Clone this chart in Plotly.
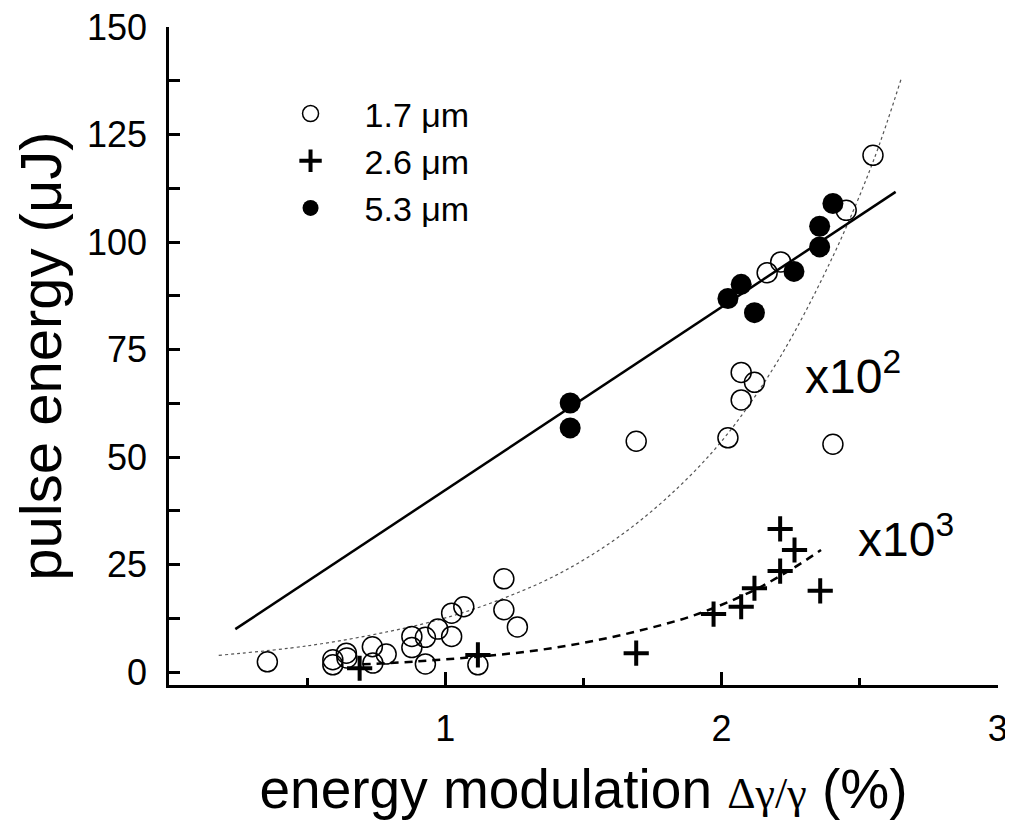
import plotly.graph_objects as go

# 1.7 um (open circles)
x_17 = [0.356, 0.593, 0.593, 0.642, 0.644, 0.736, 0.738, 0.786, 0.879, 0.879,
        0.928, 0.928, 0.973, 1.023, 1.023, 1.067, 1.118, 1.212, 1.212, 1.261,
        1.691, 2.023, 2.071, 2.119, 2.071, 2.403, 2.165, 2.214, 2.451, 2.548]
y_17 = [2.4, 1.7, 2.9, 4.4, 3.3, 5.9, 2.1, 4.2, 8.3, 5.7,
        8.1, 1.9, 10.0, 13.7, 8.3, 15.2, 1.7, 21.7, 14.5, 10.5,
        53.7, 54.5, 69.7, 67.4, 63.3, 53.0, 92.9, 95.4, 107.4, 120.2]

# 2.6 um (crosses)
x_26 = [0.690, 1.118, 1.691, 1.971, 2.071, 2.119, 2.212, 2.212, 2.264, 2.357]
y_26 = [0.9, 4.0, 4.4, 13.5, 15.2, 19.5, 23.5, 33.3, 28.4, 18.9]

# 5.3 um (filled circles)
x_53 = [1.452, 1.452, 2.023, 2.071, 2.119, 2.262, 2.355, 2.355, 2.403]
y_53 = [62.6, 56.8, 86.9, 90.2, 83.6, 93.2, 98.9, 103.7, 109.0]

# solid linear fit
x_fit_lin = [0.24, 2.63]
y_fit_lin = [10.0, 111.7]

# dotted curve (x10^2)
x_dot = [0.18, 0.5, 0.8, 1.0, 1.2, 1.4, 1.6, 1.8, 2.0, 2.2, 2.4, 2.55, 2.65]
y_dot = [3.9, 6.1, 9.5, 12.6, 16.9, 22.5, 30.2, 40.4, 53.7, 72.0, 96.3, 119.0, 138.0]

# dashed curve (x10^3)
x_dash = [0.70, 0.9, 1.1, 1.3, 1.5, 1.7, 1.9, 2.1, 2.25, 2.36]
y_dash = [1.8, 2.5, 3.5, 4.8, 6.8, 9.6, 13.2, 18.5, 23.8, 28.4]

x_ticks = [1, 2, 3]
y_ticks = [0, 25, 50, 75, 100, 125, 150]

FONT = "Liberation Sans, Arial, sans-serif"

fig = go.Figure()

fig.add_trace(go.Scatter(x=x_dot, y=y_dot, mode="lines", line_shape="spline",
                         line=dict(color="#555555", width=1.2, dash="dot"),
                         showlegend=False, hoverinfo="skip"))
fig.add_trace(go.Scatter(x=x_dash, y=y_dash, mode="lines", line_shape="spline",
                         line=dict(color="black", width=2.5, dash="8px,6px"),
                         showlegend=False, hoverinfo="skip"))
fig.add_trace(go.Scatter(x=x_fit_lin, y=y_fit_lin, mode="lines",
                         line=dict(color="black", width=2.5),
                         showlegend=False, hoverinfo="skip"))

fig.add_trace(go.Scatter(x=x_17, y=y_17, mode="markers", name="1.7 μm",
                         marker=dict(symbol="circle-open", size=20, color="black",
                                     line=dict(width=1.5, color="black"))))
fig.add_trace(go.Scatter(x=x_26, y=y_26, mode="markers", name="2.6 μm",
                         marker=dict(symbol="cross-thin", size=18, color="black",
                                     line=dict(width=4, color="black"))))
fig.add_trace(go.Scatter(x=x_53, y=y_53, mode="markers", name="5.3 μm",
                         marker=dict(symbol="circle", size=21, color="black",
                                     line=dict(width=0))))

fig.add_annotation(x=2.293, y=69.6, xref="x", yref="y", text="x10<sup>2</sup>",
                   showarrow=False, xanchor="left", yanchor="middle",
                   font=dict(size=48, color="black", family=FONT))
fig.add_annotation(x=2.488, y=31.7, xref="x", yref="y", text="x10<sup>3</sup>",
                   showarrow=False, xanchor="left", yanchor="middle",
                   font=dict(size=48, color="black", family=FONT))

fig.update_layout(
    width=1005, height=812,
    margin=dict(l=161, r=15, t=19, b=135, autoexpand=False),
    paper_bgcolor="white", plot_bgcolor="white",
    font=dict(family=FONT, color="black"),
    legend=dict(x=0.1056, y=0.912, xanchor="left", yanchor="top",
                font=dict(size=34, family=FONT, color="black"),
                bgcolor="rgba(0,0,0,0)", itemwidth=98, tracegroupgap=0),
    xaxis=dict(range=[0, 3.0005], tickvals=x_ticks, ticktext=[str(v) for v in x_ticks],
               ticks="inside", ticklen=13, tickwidth=2.5, tickcolor="black",
               minor=dict(dtick=0.5, tick0=0, ticks="inside", ticklen=7,
                          tickwidth=2.5, tickcolor="black"),
               showline=True, linewidth=2.5, linecolor="black",
               showgrid=False, zeroline=False, ticklabelstandoff=10,
               ticklabeloverflow="allow",
               tickfont=dict(size=36, family=FONT, color="black"),
               title=dict(text="energy modulation <span style=\"font-family:'Liberation Serif';font-size:44px\">Δγ/γ</span> (%)",
                          font=dict(size=55, family=FONT, color="black"), standoff=29)),
    yaxis=dict(range=[-3, 150.05], tickvals=y_ticks, ticktext=[str(v) for v in y_ticks],
               ticks="inside", ticklen=11, tickwidth=2.5, tickcolor="black",
               minor=dict(dtick=12.5, tick0=0, ticks="inside", ticklen=11,
                          tickwidth=2.5, tickcolor="black"),
               showline=True, linewidth=2.5, linecolor="black",
               showgrid=False, zeroline=False, ticklabelstandoff=12,
               ticklabeloverflow="allow",
               tickfont=dict(size=36, family=FONT, color="black"),
               title=dict(text="pulse energy (μJ)",
                          font=dict(size=58, family=FONT, color="black"), standoff=14)),
)

fig.write_html("out.html")
